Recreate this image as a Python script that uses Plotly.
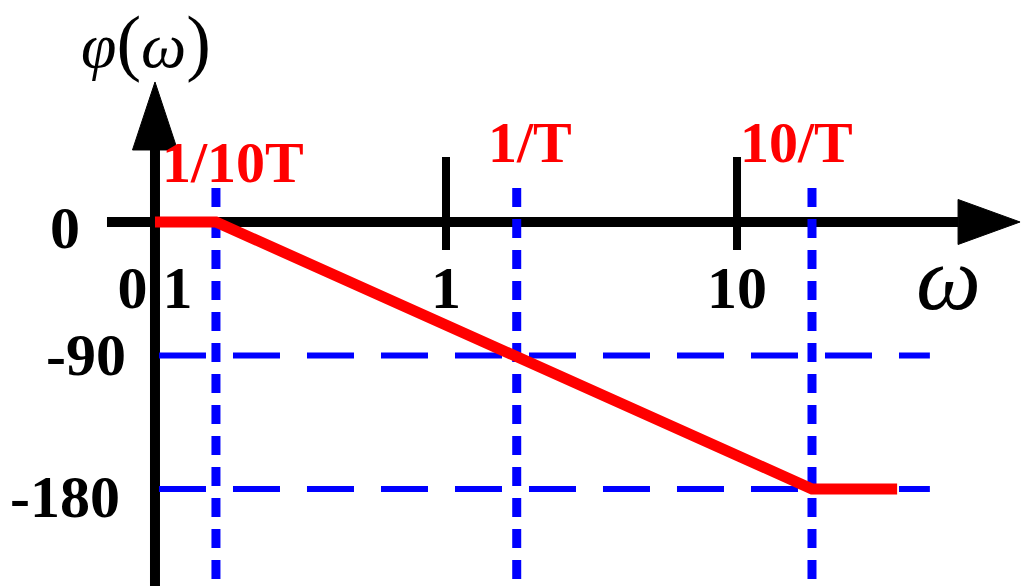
import numpy as np
import plotly.graph_objects as go

# ---- data -------------------------------------------------------------
omega_ticks = [0.1, 1, 10]
omega_tick_labels = ["0.1", "1", "10"]
phase_ticks = [0, -90, -180]
phase_tick_labels = ["0", "-90", "-180"]

break_freqs = [0.162, 1.75, 18.1]          # 1/10T, 1/T, 10/T
break_labels = ["1/10T", "1/T", "10/T"]

asym_omega = [0.1, 0.162, 18.1, 35.5]      # asymptotic phase curve
asym_phase = [0, 0, -180, -180]

# ---- canvas / scales -------------------------------------------------
W, H = 1021, 586
X_RANGE = [-1.5326, 1.9759]                # log10(omega)
Y_RANGE = [-245.4, 149.66]                 # degrees
PX_PER_DEC = W / (X_RANGE[1] - X_RANGE[0])
PX_PER_DEG = H / (Y_RANGE[1] - Y_RANGE[0])

def shift_w(w, px):
    """Move a frequency by a pixel distance along the log axis."""
    return w * 10 ** (px / PX_PER_DEC)

def shift_p(p, px):
    """Move a phase value by a pixel distance (positive = up)."""
    return p + px / PX_PER_DEG

FONT = "Liberation Serif"
BLACK, BLUE, RED = "#000000", "#0000FF", "#FF0000"

# axis geometry
omega_axis = [0.0684, 93.9]                # left end, arrow tip
phase_axis = [-260, 94.4]                  # bottom, arrow tip
ARROW_LEN_X, ARROW_LEN_Y, ARROW_HALF = 62, 68, 22.5

fig = go.Figure()

# frequency tick labels (under the axis so the vertical axis covers the dot of 0.1)
fig.add_trace(go.Scatter(
    x=omega_ticks, y=[-47.9] * len(omega_ticks), mode="text",
    text=omega_tick_labels, textposition="middle center",
    textfont=dict(family=FONT, size=60, color=BLACK, weight="bold"),
))

# horizontal axis with arrow
x_base = shift_w(omega_axis[1], -ARROW_LEN_X)
fig.add_trace(go.Scatter(
    x=[omega_axis[0], x_base], y=[0, 0], mode="lines",
    line=dict(color=BLACK, width=10),
))
fig.add_trace(go.Scatter(
    x=[x_base, omega_axis[1], x_base, x_base],
    y=[shift_p(0, ARROW_HALF), 0, shift_p(0, -ARROW_HALF), shift_p(0, ARROW_HALF)],
    mode="lines", fill="toself", fillcolor=BLACK, line=dict(color=BLACK, width=1),
))

# vertical axis with arrow
y_base = shift_p(phase_axis[1], -ARROW_LEN_Y)
fig.add_trace(go.Scatter(
    x=[0.1, 0.1], y=[phase_axis[0], y_base], mode="lines",
    line=dict(color=BLACK, width=10),
))
fig.add_trace(go.Scatter(
    x=[shift_w(0.1, -ARROW_HALF), 0.1, shift_w(0.1, ARROW_HALF), shift_w(0.1, -ARROW_HALF)],
    y=[y_base, phase_axis[1], y_base, y_base],
    mode="lines", fill="toself", fillcolor=BLACK, line=dict(color=BLACK, width=1),
))

# decade tick marks
for w in omega_ticks[1:]:
    fig.add_trace(go.Scatter(
        x=[w, w], y=[shift_p(0, 65), shift_p(0, -28)], mode="lines",
        line=dict(color=BLACK, width=8),
    ))

# dashed reference lines at -90 and -180
for p in phase_ticks[1:]:
    fig.add_trace(go.Scatter(
        x=[shift_w(0.1, 4), 46], y=[p, p], mode="lines",
        line=dict(color=BLUE, width=6, dash="47px,27px"),
    ))

# dotted lines at the break frequencies
for w in break_freqs:
    fig.add_trace(go.Scatter(
        x=[w, w], y=[shift_p(0, 34), phase_axis[0]], mode="lines",
        line=dict(color=BLUE, width=9, dash="19px,12px"),
    ))

# asymptotic phase characteristic
fig.add_trace(go.Scatter(
    x=asym_omega, y=asym_phase, mode="lines",
    line=dict(color=RED, width=11),
))

annotations = []

# phase tick labels
phase_label_pos = [(-73, -6), (-27, 0), (-33, -8)]
for p, lab, (dx, dy) in zip(phase_ticks, phase_tick_labels, phase_label_pos):
    annotations.append(dict(
        x=np.log10(0.1), y=p, text=lab, showarrow=False,
        xanchor="right", yanchor="middle", xshift=dx, yshift=dy,
        font=dict(family=FONT, size=60, color=BLACK, weight="bold"),
    ))

# break-frequency labels
break_label_pos = [(17, 39.8), (13, 53.9), (-15, 53.9)]
for w, lab, (dx, p) in zip(break_freqs, break_labels, break_label_pos):
    annotations.append(dict(
        x=np.log10(w), y=p, text=lab, showarrow=False,
        xanchor="center", yanchor="middle", xshift=dx,
        font=dict(family=FONT, size=58, color=RED, weight="bold"),
    ))

# axis titles: italic symbols, upright enlarged parentheses
paren = "<span style='font-size:74px;font-style:normal'>{}</span>"
annotations.append(dict(
    x=np.log10(0.1), y=121.5, text="φ" + paren.format("(") + "ω" + paren.format(")"),
    showarrow=False, xanchor="center", yanchor="middle", xshift=-9,
    font=dict(family=FONT, size=64, color=BLACK, style="italic"),
))
annotations.append(dict(
    x=np.log10(53.5), y=-37.5, text="ω", showarrow=False,
    xanchor="center", yanchor="middle",
    font=dict(family=FONT, size=92, color=BLACK, style="italic"),
))

fig.update_layout(
    width=W, height=H,
    margin=dict(l=0, r=0, t=0, b=0, pad=0),
    paper_bgcolor="white", plot_bgcolor="white",
    showlegend=False, hovermode=False,
    xaxis=dict(type="log", range=X_RANGE, visible=False, fixedrange=True),
    yaxis=dict(range=Y_RANGE, visible=False, fixedrange=True),
    annotations=annotations,
)

fig.write_html("out.html")
